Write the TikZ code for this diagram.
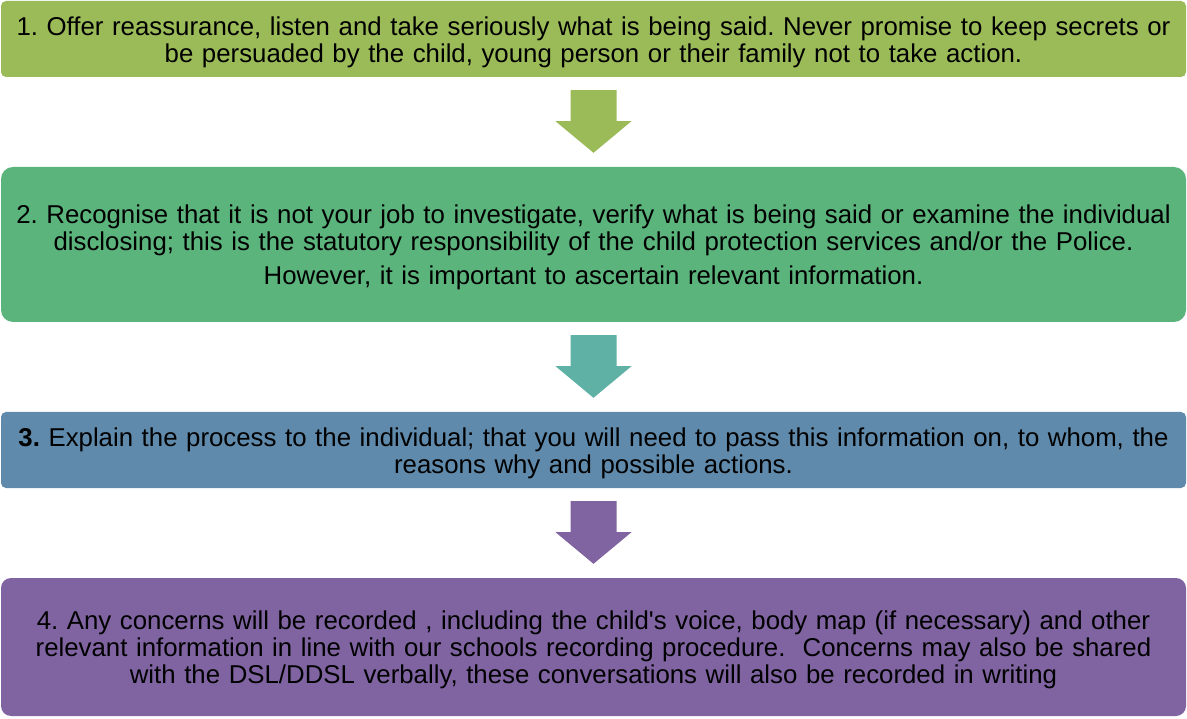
\documentclass[tikz,border=0pt]{standalone}
\usepackage{fontspec}
\setmainfont{Liberation Sans}
\usetikzlibrary{calc}

\definecolor{oliveone}{HTML}{9BBB59}
\definecolor{greentwo}{HTML}{5BB47C}
\definecolor{tealarrow}{HTML}{5FB0A5}
\definecolor{bluethree}{HTML}{5F8AAB}
\definecolor{purplefour}{HTML}{8064A2}

\tikzset{
  stagebox/.style={rounded corners=5pt, inner sep=0pt, minimum width=1185pt,
    text width=1180pt, align=center, font=\fontsize{25.8}{27}\selectfont\frenchspacing,
    execute at begin node={\rule{0pt}{25pt}}}
}

% block arrow from the bottom of one box to the top of the next
\newcommand{\stagearrow}[3]{%
  \fill[#3] ($(#1.south)+(-23,13)$) -- ($(#1.south)+(23,13)$)
    -- ($(#1.south)+(23,44)$) -- ($(#1.south)+(38,44)$)
    -- ($(#2.north)+(0,-14)$)
    -- ($(#1.south)+(-38,44)$) -- ($(#1.south)+(-23,44)$) -- cycle;}

\begin{document}
\begin{tikzpicture}[x=1pt,y=-1pt]
  \useasboundingbox (0,0) rectangle (1187,719);

  \node[stagebox, fill=oliveone, minimum height=76pt] (s1) at (593.5,39)
    {1. Offer reassurance, listen and take seriously what is being said. Never promise to keep secrets or\\
     be persuaded by the child, young person or their family not to take action.};
  \node[stagebox, fill=greentwo, minimum height=155pt, rounded corners=12pt] (s2) at (593.5,244.5)
    {2. Recognise that it is not your job to investigate, verify what is being said or examine the individual\\
     disclosing; this is the statutory responsibility of the child protection services and/or the Police.\\[7pt]
     However, it is important to ascertain relevant information.};
  \node[stagebox, fill=bluethree, minimum height=76pt] (s3) at (593.5,450)
    {\textbf{3.} Explain the process to the individual; that you will need to pass this information on, to whom, the\\
     reasons why and possible actions.};
  \node[stagebox, fill=purplefour, minimum height=138pt, rounded corners=10pt] (s4) at (593.5,647)
    {4. Any concerns will be recorded , including the child\textquotesingle s voice, body map (if necessary) and other\\
     relevant information in line with our schools recording procedure.\ \ Concerns may also be shared\\
     with the DSL/DDSL verbally, these conversations will also be recorded in writing};

  \stagearrow{s1}{s2}{oliveone}
  \stagearrow{s2}{s3}{tealarrow}
  \stagearrow{s3}{s4}{purplefour}
\end{tikzpicture}
\end{document}
